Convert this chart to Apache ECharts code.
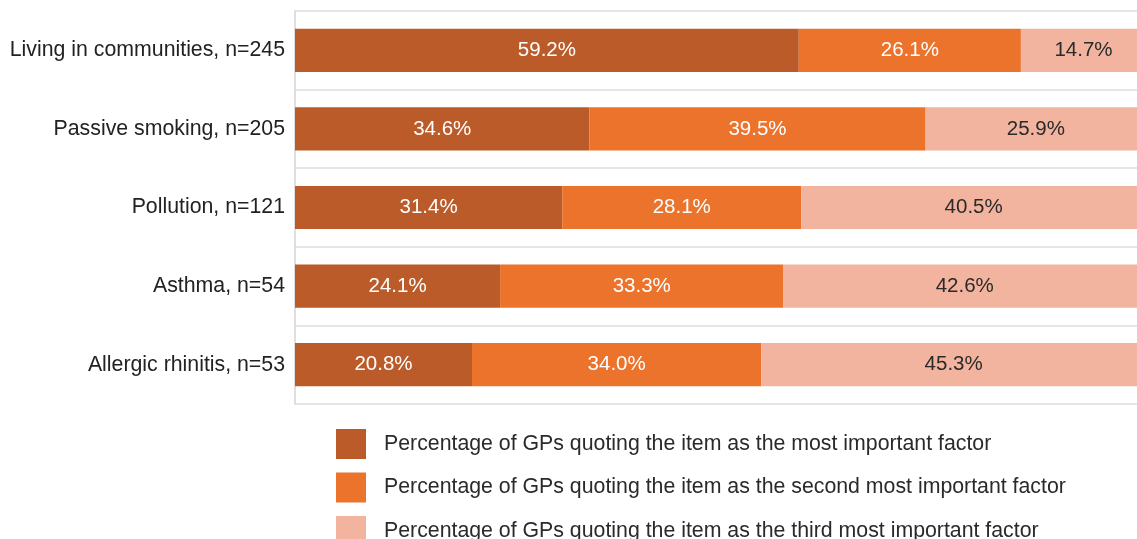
<!DOCTYPE html>
<html><head><meta charset="utf-8">
<script src="https://cdn.jsdelivr.net/npm/echarts@6/dist/echarts.min.js"></script>
<style>html,body{margin:0;padding:0;background:#fff;overflow:hidden;width:1137px;height:539px}#c{width:1146px;height:539px}</style>
</head><body><div id="c"></div>
<script>
const categories = ["Living in communities, n=245","Passive smoking, n=205","Pollution, n=121","Asthma, n=54","Allergic rhinitis, n=53"];
const seriesNames = ["Percentage of GPs quoting the item as the most important factor","Percentage of GPs quoting the item as the second most important factor","Percentage of GPs quoting the item as the third most important factor"];
const mostImportant = [59.2, 34.6, 31.4, 24.1, 20.8];
const secondImportant = [26.1, 39.5, 28.1, 33.3, 34.0];
const thirdImportant = [14.7, 25.9, 40.5, 42.6, 45.3];
const colors = ["#BB5B29", "#EB732C", "#F2B39F"];
const labelColors = ["#ffffff", "#ffffff", "#2a2a2a"];
const values = [mostImportant, secondImportant, thirdImportant];
const FF = 'Liberation Sans, Arial, sans-serif';

const chart = echarts.init(document.getElementById('c'));
chart.setOption({
  animation: false,
  textStyle: {fontFamily: FF},
  grid: {left: 295, right: 0, top: 11, bottom: 135},
  xAxis: {type: 'value', min: 0, max: 100, show: false},
  yAxis: {
    type: 'category', data: categories, inverse: true,
    axisLine: {show: true, lineStyle: {color: '#d4d4d4', width: 1.5}},
    axisTick: {show: false},
    splitLine: {show: true, lineStyle: {color: '#dcdcdc', width: 1.5}},
    axisLabel: {color: '#222', fontSize: 21.3, margin: 10, fontFamily: FF}
  },
  legend: seriesNames.map((n, i) => ({
    orient: 'vertical', left: 336, top: 429 + i * 43.5, itemWidth: 30, itemHeight: 30,
    icon: 'rect', padding: 0,
    textStyle: {fontSize: 21.3, color: '#2a2a2a', padding: [0,0,0,13], fontFamily: FF},
    data: [n]
  })),
  series: seriesNames.map((n, i) => ({
    name: n, type: 'bar', stack: 'total', barWidth: '55%',
    data: values[i],
    itemStyle: {color: colors[i]},
    label: {show: true, position: 'inside', color: labelColors[i], fontSize: 20.5,
      fontFamily: FF,
      formatter: p => p.value.toFixed(1) + '%'}
  }))
});
</script></body></html>
